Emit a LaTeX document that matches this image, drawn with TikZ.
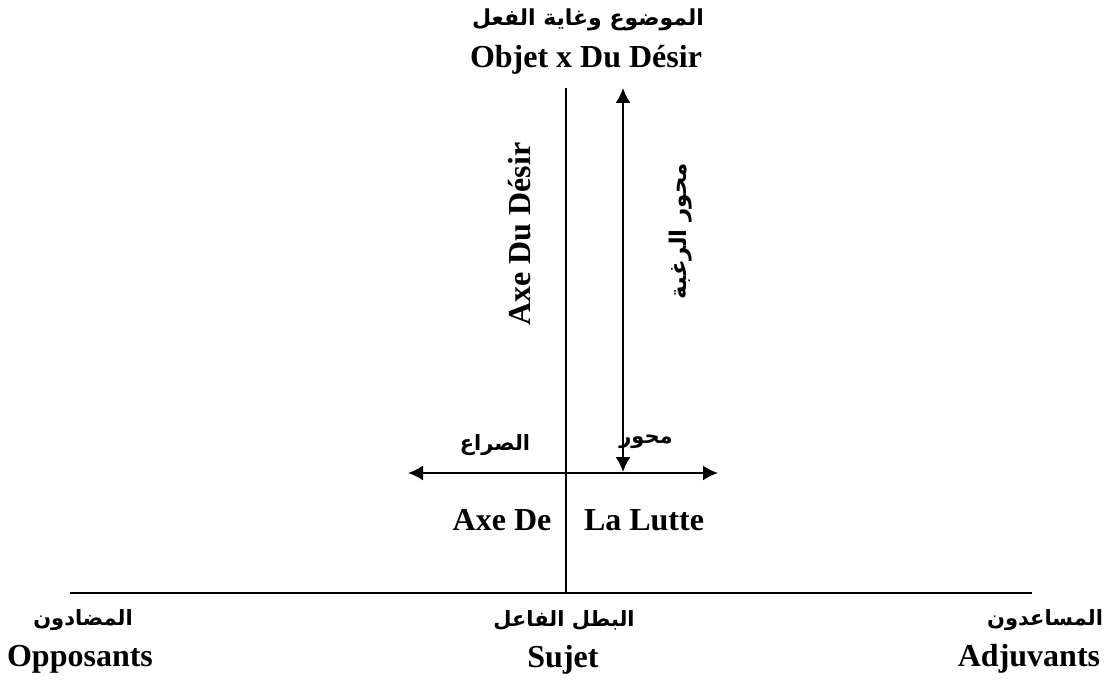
\documentclass[tikz,border=0pt]{standalone}
\usepackage{fontspec}
\setmainfont{Liberation Serif}
\newfontfamily\arabicfont[Script=Arabic]{DejaVu Sans}
\TeXXeTstate=1
\usetikzlibrary{arrows.meta, positioning}
\tikzset{
	latinlbl/.style={font=\bfseries\fontsize{16}{19}\selectfont, inner sep=1pt},
	arablbl/.style={font=\arabicfont\bfseries\fontsize{10.5}{13}\selectfont, inner sep=1pt},
	axis/.style={line width=1pt, draw=black},
	twoarrow/.style={{Latex[length=7.5pt, width=7.5pt]}-{Latex[length=7.5pt, width=7.5pt]}, line width=1pt, draw=black},
}

\begin{document}
\begin{tikzpicture}[x=0.5pt, y=-0.5pt]
		\useasboundingbox (0,0) rectangle (1106,683);
		% axes
		\coordinate (top) at (566,88);
		\coordinate (base) at (566,593);
		\coordinate (baseL) at (70,593);
		\coordinate (baseR) at (1032,593);
		\coordinate (lutteL) at (408,473);
		\coordinate (lutteR) at (718,473);
		\coordinate (desirT) at (623,88);
		\coordinate (desirB) at (623,472);
		% labels
		\node[arablbl, font=\arabicfont\bfseries\fontsize{11}{13}\selectfont] (objetar) at (588,20) {\beginR الموضوع وغاية الفعل\endR};
		\node[latinlbl] (objet) at (586,60) {Objet x Du Désir};
		\node[latinlbl, rotate=90] (axedesir) at (520,234) {Axe Du Désir};
		\node[arablbl, rotate=90, font=\arabicfont\bfseries\fontsize{11.5}{13}\selectfont] (axedesirar) at (681,231) {\beginR محور الرغبة\endR};
		\node[arablbl] (sira) at (495,445) {\beginR الصراع\endR};
		\node[arablbl] (mihwar) at (646,442) {\beginR محور\endR};
		\node[latinlbl] (axede) at (502,520) {Axe De};
		\node[latinlbl] (lutte) at (644,520) {La Lutte};
		\node[arablbl] (opposar) at (83,620) {\beginR المضادون\endR};
		\node[latinlbl] (oppos) at (80,659) {Opposants};
		\node[arablbl] (sujetar) at (564,620) {\beginR البطل الفاعل\endR};
		\node[latinlbl] (sujet) at (563,660) {Sujet};
		\node[arablbl] (adjuvar) at (1045,620) {\beginR المساعدون\endR};
		\node[latinlbl] (adjuv) at (1029,659) {Adjuvants};
		% lines
		\draw[axis] (top) -- (base);
		\draw[axis] (baseL) -- (baseR);
		\draw[twoarrow] (lutteL) -- (lutteR);
		\draw[twoarrow] (desirB) -- (desirT);
	\end{tikzpicture}
\end{document}
